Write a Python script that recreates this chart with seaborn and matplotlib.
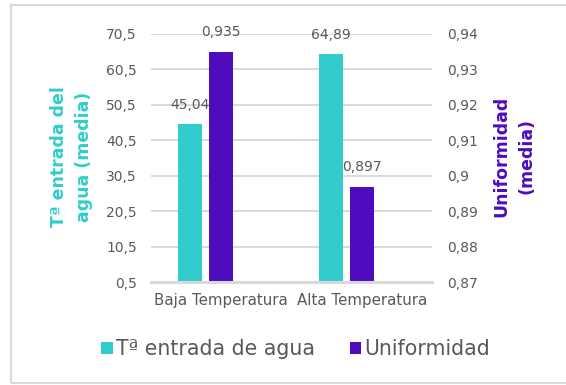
import numpy as np
import pandas as pd
import matplotlib
matplotlib.use("Agg")
import matplotlib.pyplot as plt
from matplotlib.patches import Patch, Rectangle
import seaborn as sns

# Data
categories = ["Baja Temperatura", "Alta Temperatura"]
temp_media = [45.04, 64.89]
unif_media = [0.935, 0.897]
temp_ticks = [0.5, 10.5, 20.5, 30.5, 40.5, 50.5, 60.5, 70.5]
unif_ticks = [0.87, 0.88, 0.89, 0.90, 0.91, 0.92, 0.93, 0.94]

TEAL = "#33CCCC"
PURPLE = "#4F0CBF"
GREY_TXT = "#595959"
GRID = "#D9D9D9"


def coma(v, nd=3):
    s = f"{round(v, nd):g}"
    return s.replace(".", ",")


sns.set_theme(style="white")
plt.rcParams["font.family"] = ["DejaVu Sans"]

fig = plt.figure(figsize=(5.66, 3.85), dpi=100)
ax = fig.add_axes([0.2663, 0.2668, 0.4977, 0.6449])
ax2 = ax.twinx()

pos = np.arange(len(categories))
offset = 0.22
bar_w = 0.175

df_t = pd.DataFrame({"x": pos - offset, "y": temp_media})
df_u = pd.DataFrame({"x": pos.astype(float), "y": unif_media})

sns.barplot(data=df_t, x="x", y="y", native_scale=True, width=bar_w,
            color=TEAL, saturation=1, errorbar=None, linewidth=0, ax=ax)
sns.barplot(data=df_u, x="x", y="y", native_scale=True, width=bar_w,
            color=PURPLE, saturation=1, errorbar=None, linewidth=0, ax=ax2)

# Axes ranges and ticks
ax.set_xlim(-0.5, 1.5)
ax.set_ylim(temp_ticks[0], temp_ticks[-1])
ax2.set_ylim(unif_ticks[0], unif_ticks[-1])
ax.set_xticks(pos, labels=categories)
ax.set_yticks(temp_ticks, labels=[coma(v, 1) for v in temp_ticks])
ax2.set_yticks(unif_ticks, labels=[coma(v, 2) for v in unif_ticks])
ax.set_xlabel("")
ax.set_ylabel("")
ax2.set_xlabel("")
ax2.set_ylabel("")

ax.tick_params(axis="y", length=0, pad=10, labelsize=10, labelcolor=GREY_TXT)
ax2.tick_params(axis="y", length=0, pad=10.5, labelsize=10, labelcolor=GREY_TXT)
ax.tick_params(axis="x", length=0, pad=8, labelsize=10.8, labelcolor=GREY_TXT)

# Grid and spines
ax.set_axisbelow(True)
ax.yaxis.grid(True, color=GRID, linewidth=1.4)
for a in (ax, ax2):
    for s in ("top", "left", "right"):
        a.spines[s].set_visible(False)
    a.spines["bottom"].set_color(GRID)
    a.spines["bottom"].set_linewidth(2.2)

# Value labels
for x, v in zip(pos - offset, temp_media):
    ax.annotate(coma(v, 2), (x, v), xytext=(0, 11), textcoords="offset points",
                ha="center", va="baseline", fontsize=10, color=GREY_TXT)
for x, v in zip(pos, unif_media):
    ax2.annotate(coma(v, 3), (x, v), xytext=(0, 11), textcoords="offset points",
                 ha="center", va="baseline", fontsize=10, color=GREY_TXT)

# Axis titles
fig.text(71.5 / 566, 1 - 157 / 385, "Tª entrada del\nagua (media)", rotation=90,
         ha="center", va="center", multialignment="center", fontsize=12.5,
         fontweight="bold", color=TEAL, linespacing=1.5)
fig.text(514 / 566, 1 - 156 / 385, "Uniformidad\n(media)", rotation=90,
         ha="center", va="center", multialignment="center", fontsize=12.5,
         fontweight="bold", color=PURPLE, linespacing=1.5)

# Legend
handles = [Patch(facecolor=TEAL, edgecolor="none"),
           Patch(facecolor=PURPLE, edgecolor="none")]
fig.legend(handles, ["Tª entrada de agua", "Uniformidad"], loc="center",
           bbox_to_anchor=(0.522, 1 - 349 / 385), ncol=2, frameon=False,
           fontsize=14.8, labelcolor=GREY_TXT, handlelength=0.55,
           handleheight=0.55, handletextpad=0.15, columnspacing=1.7)

# Chart border (its right side lies beyond the canvas)
fig.patches.append(Rectangle((11 / 566, 2 / 385), 3.0, 1 - 7 / 385,
                             transform=fig.transFigure, fill=False,
                             edgecolor=GRID, linewidth=1.5, clip_on=False))

fig.savefig("out.png", dpi=100)
